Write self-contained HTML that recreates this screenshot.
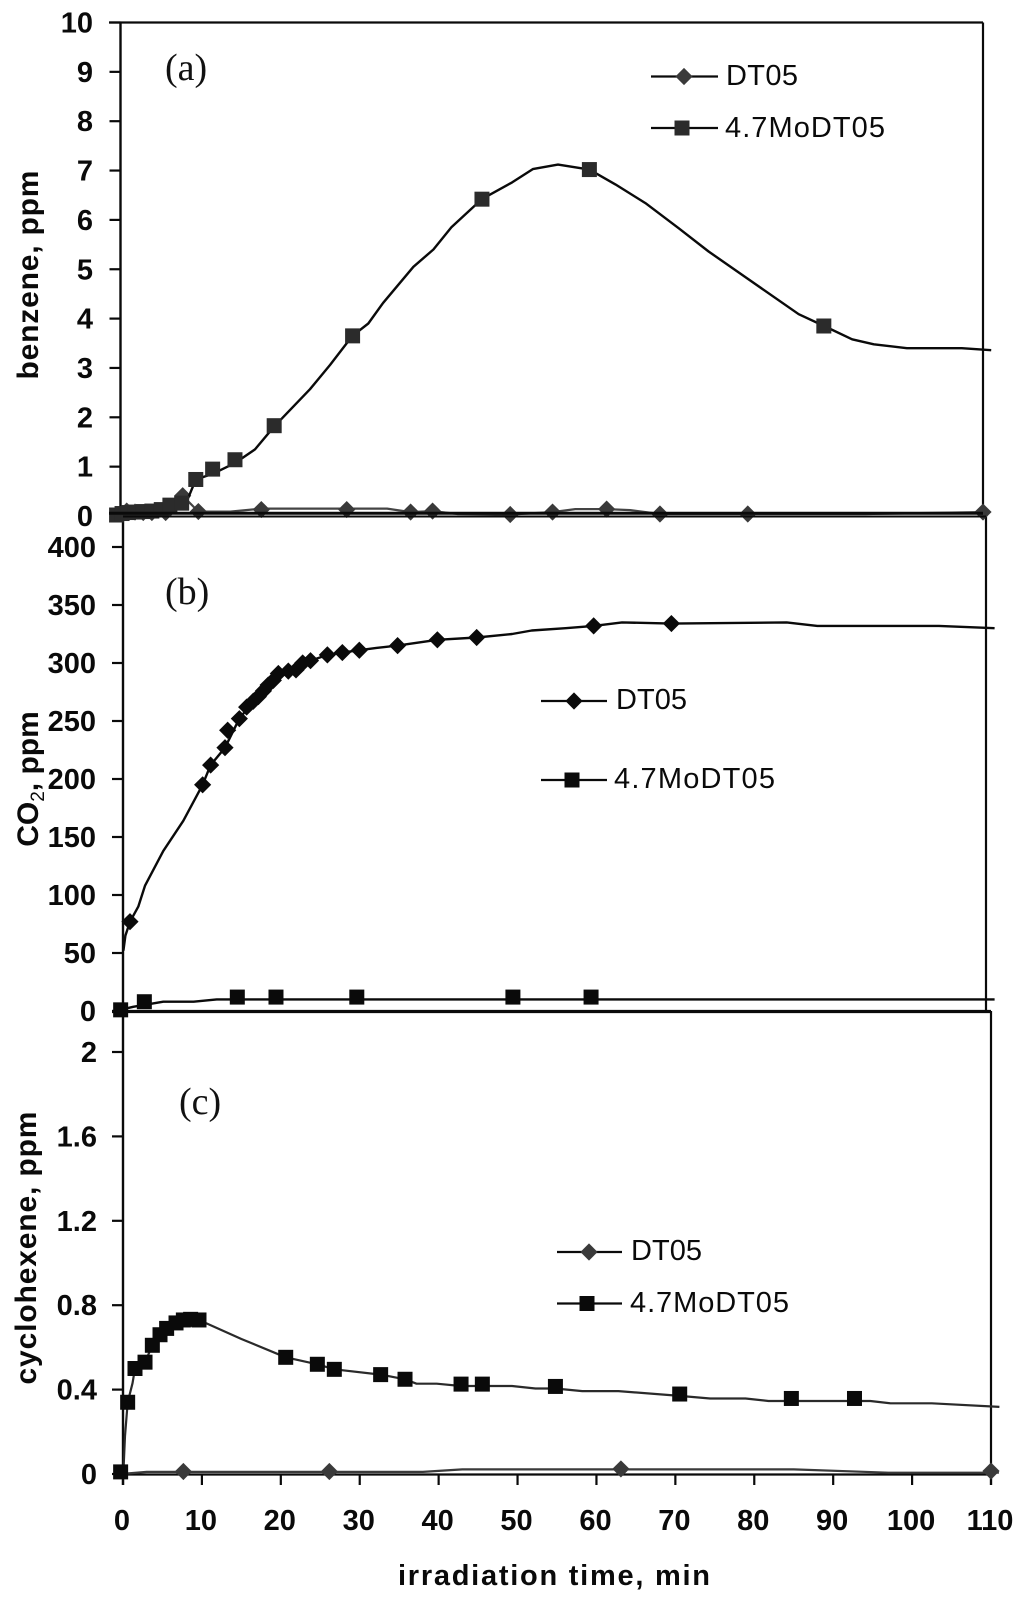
<!DOCTYPE html>
<html>
<head>
<meta charset="utf-8">
<style>
html,body{margin:0;padding:0;background:#fff;width:1024px;height:1598px;overflow:hidden}
svg{display:block}
text{font-family:"Liberation Sans",sans-serif;fill:#0a0a0a}
.tick{font-size:29px;font-weight:bold}
.ytitle,.xtitle{font-size:30px;font-weight:bold}
.legend{font-size:29px}
.plabel{font-family:"Liberation Serif",serif;font-size:38px;fill:#111}
</style>
</head>
<body>
<svg id="chart" width="1024" height="1598" viewBox="0 0 1024 1598" xmlns="http://www.w3.org/2000/svg">
  <rect x="0" y="0" width="1024" height="1598" fill="#fff"/>
  <g id="marks"></g>

  <text class="plabel" x="165" y="80">(a)</text>
  <text class="plabel" x="165" y="604">(b)</text>
  <text class="plabel" x="179" y="1114">(c)</text>

  <text class="ytitle" text-anchor="middle" textLength="209" lengthAdjust="spacing" transform="translate(38,275) rotate(-90)">benzene, ppm</text>
  <text class="ytitle" text-anchor="middle" transform="translate(38,779) rotate(-90)">CO<tspan font-size="19" font-weight="normal" dy="6">2</tspan><tspan dy="-6">, ppm</tspan></text>
  <text class="ytitle" text-anchor="middle" textLength="273" lengthAdjust="spacing" transform="translate(36,1248) rotate(-90)">cyclohexene, ppm</text>
  <text class="xtitle" text-anchor="middle" textLength="312" lengthAdjust="spacing" x="554" y="1585" style="font-size:29px">irradiation time, min</text>

  <text class="legend" x="726" y="85" textLength="72">DT05</text>
  <text class="legend" x="725" y="137" textLength="160">4.7MoDT05</text>
  <text class="legend" x="616" y="709" textLength="71">DT05</text>
  <text class="legend" x="614" y="788" textLength="161">4.7MoDT05</text>
  <text class="legend" x="631" y="1260" textLength="71">DT05</text>
  <text class="legend" x="630" y="1312" textLength="159">4.7MoDT05</text>
</svg>
<script>
// Shared x axis (irradiation time, min)
const xTicks = [0,10,20,30,40,50,60,70,80,90,100,110];

// Panel (a) benzene, ppm
const aYTicks = [0,1,2,3,4,5,6,7,8,9,10];
const aLineT = [-0.5,1.64,3.76,5.9,7.6,8.65,9.6,11.84,14.56,17.15,19.58,24.17,26.72,29.57,31.6,33.5,37.35,39.9,42.2,46.07,49.94,52.58,55.8,59.8,63.12,66.95,71.2,75,79.7,86.5,89.74,93.3,96.07,100.3,107.3,111.04];
const aLineV = [0.02,0.06,0.08,0.13,0.2,0.37,0.74,0.86,1.07,1.35,1.81,2.57,3.06,3.65,3.9,4.32,5.05,5.4,5.85,6.42,6.76,7.03,7.12,7.02,6.72,6.34,5.83,5.36,4.84,4.09,3.85,3.58,3.48,3.4,3.4,3.36];
const aSquareT = [-0.5,0.2,1.0,1.9,2.9,4.0,5.2,6.3,7.8,9.6,11.75,14.6,19.6,29.6,46.1,59.8,89.7];
const aSquareV = [0.02,0.05,0.07,0.08,0.09,0.1,0.13,0.22,0.26,0.74,0.95,1.14,1.83,3.65,6.42,7.02,3.85];
const aDiamondT = [0.79,1.85,2.9,4,5.76,7.93,9.93,17.96,28.85,37,39.8,49.7,55.1,62,68.8,80,110];
const aDiamondV = [0.1,0.08,0.07,0.07,0.07,0.41,0.09,0.13,0.13,0.08,0.1,0.03,0.08,0.14,0.04,0.04,0.08];
const aDtLineT = [-0.5,0.79,5.76,7.93,9.93,14,17.96,28.85,34,37,39.8,43,49.7,55.1,58,62,65,68.8,80,95,110];
const aDtLineV = [0.03,0.1,0.07,0.41,0.09,0.09,0.15,0.15,0.15,0.08,0.1,0.04,0.03,0.08,0.14,0.14,0.12,0.04,0.04,0.04,0.08];

// Panel (b) CO2, ppm
const bYTicks = [0,50,100,150,200,250,300,350,400];
const bLineT = [0.05,0.3,0.89,1.95,2.8,5.14,7.69,10.15,11.17,13,14.83,16.6,18.5,19.8,22.05,23.9,26.05,27.96,30.12,32.3,35,40.07,45.08,49.6,52.1,56.4,60,63.6,69.9,84.6,88.5,104,111.1];
const bLineV = [52,65,77,90,108,138,164,195,212,227,252,267,281,291,294,302,307,309,311,313,315,320,322,325,328,330,332,335,334,335,332,332,330];
const bDiamondT = [0.89,10.15,11.17,13,13.34,14.83,15.76,16.6,17.25,17.9,18.5,19.16,19.8,21.07,22.05,22.9,23.9,26.05,27.96,30.12,35,40.07,45.08,59.99,69.9];
const bDiamondV = [77,195,212,227,242,252,262,267,271,276,281,285,291,293,294,300,302,307,309,311,315,320,322,332,334];
const bMoLineT = [-0.3,1.3,5.14,9,11.94,14.57,59.66,111.1];
const bMoLineV = [1,3.6,8,8,10,10,10,10];
const bSquareT = [-0.3,2.72,14.57,19.5,29.8,49.7,59.66];
const bSquareV = [1,8,12,12,12,12,12];

// Panel (c) cyclohexene, ppm
const cYTicks = [0,0.4,0.8,1.2,1.6,2];
const cYLabels = ["0","0.4","0.8","1.2","1.6","2"];
const cLineT = [-0.3,0.05,0.25,0.59,1.2,1.52,2.79,3.72,4.69,5.53,6.72,7.65,8.57,9.63,15,20.62,24.63,26.78,32.65,35.74,37.2,39.75,42.84,49.3,52.26,54.8,58.2,62.8,70.55,74.4,78.9,81.8,94.7,97.25,102.5,111.07];
const cLineV = [0.01,0.01,0.18,0.34,0.43,0.5,0.53,0.61,0.66,0.69,0.716,0.73,0.733,0.73,0.64,0.553,0.52,0.496,0.471,0.449,0.428,0.428,0.417,0.417,0.405,0.405,0.393,0.393,0.37,0.358,0.358,0.346,0.346,0.335,0.335,0.318];
const cSquareT = [-0.3,0.59,1.52,2.79,3.72,4.69,5.53,6.72,7.65,8.57,9.63,20.62,24.63,26.78,32.65,35.74,42.84,45.54,54.8,70.55,84.7,92.7];
const cSquareV = [0.01,0.34,0.5,0.53,0.61,0.66,0.69,0.716,0.73,0.733,0.73,0.553,0.52,0.496,0.471,0.449,0.426,0.426,0.415,0.379,0.358,0.358];
const cDiamondT = [7.65,26.15,63.1,110];
const cDiamondV = [0.012,0.012,0.024,0.014];
const cDtLineT = [-0.3,3,38,43,85,97,111];
const cDtLineV = [0,0.01,0.01,0.022,0.022,0.006,0.006];

const NS = 'http://www.w3.org/2000/svg';
const marks = document.getElementById('marks');

function make(tag, attrs, parent) {
  const el = document.createElementNS(NS, tag);
  for (const k in attrs) el.setAttribute(k, attrs[k]);
  (parent || marks).appendChild(el);
  return el;
}
function linear(d0, d1, r0, r1) {
  return function (v) { return r0 + (v - d0) * (r1 - r0) / (d1 - d0); };
}

const xA = linear(0, 110, 120.5, 983);
const yA = linear(0, 10, 516, 22.5);
const xB = linear(0, 110, 123, 986);
const yB = linear(0, 400, 1011, 547);
const xC = linear(0, 110, 123, 991);
const yC = linear(0, 2, 1474, 1052);

function seriesLine(name, ts, vs, sx, sy, color, w) {
  const pts = ts.map(function (t, i) { return sx(t).toFixed(1) + ',' + sy(vs[i]).toFixed(1); }).join(' ');
  const el = make('polyline', {points: pts, fill: 'none', stroke: color, 'stroke-width': w, 'stroke-linejoin': 'round'});
  
  
}
function square(name, cx, cy, color) {
  const el = make('rect', {x: cx - 7.5, y: cy - 7.5, width: 15, height: 15, fill: color});
  
  
}
function diamond(name, cx, cy, color) {
  const r = 8.6;
  const el = make('polygon', {points: cx + ',' + (cy - r) + ' ' + (cx + r) + ',' + cy + ' ' + cx + ',' + (cy + r) + ' ' + (cx - r) + ',' + cy, fill: color});
  
  
}
function axisLine(name, x1, y1, x2, y2, w) {
  const el = make('line', {x1: x1, y1: y1, x2: x2, y2: y2, stroke: '#0a0a0a', 'stroke-width': w});
  
  
}
function yAxis(name, values, labels, sy, xAxis, labelX) {
  values.forEach(function (v, i) {
    axisLine(name + '-tick', xAxis - 11, sy(v), xAxis, sy(v), 2.2);
    const t = make('text', {x: labelX, y: sy(v) + 10, 'text-anchor': 'end', 'class': 'tick'});
    
    
    t.textContent = labels[i];
  });
}
function series(prefix, kind, ts, vs, sx, sy, color) {
  ts.forEach(function (t, i) {
    if (kind === 'square') square(prefix + '-point', sx(t), sy(vs[i]), color);
    else diamond(prefix + '-point', sx(t), sy(vs[i]), color);
  });
}

// Panel frames
axisLine('panel-a-top-axis', 109, 22.5, 983, 22.5, 2.2);
axisLine('panel-a-right-axis', 983, 22.5, 983, 516, 2.2);
axisLine('panel-a-left-axis', 120.5, 22.5, 120.5, 516, 2.4);
axisLine('panel-b-left-axis', 123, 516, 123, 1011, 2.4);
axisLine('panel-b-right-axis', 986, 516, 986, 1012, 2.2);
axisLine('panel-c-left-axis', 123, 1011, 123, 1485, 2.4);
axisLine('panel-c-right-axis', 991, 1011, 991, 1485, 2.2);

// Y axes
yAxis('y-axis-a', aYTicks, aYTicks.map(String), yA, 120.5, 93);
yAxis('y-axis-b', bYTicks, bYTicks.map(String), yB, 123, 96);
yAxis('y-axis-c', cYTicks, cYLabels, yC, 123, 97);

// Shared X axis ticks and labels
xTicks.forEach(function (v) {
  axisLine('x-axis-tick', xC(v), 1474, xC(v), 1485, 2.2);
  const t = make('text', {x: xC(v) - 1, y: 1530, 'text-anchor': 'middle', 'class': 'tick'});
  
  
  t.textContent = v;
});

// Panel (a) series
seriesLine('panel-a-dt05-line', aDtLineT, aDtLineV, xA, yA, '#444', 2.2);
series('panel-a-dt05', 'diamond', aDiamondT, aDiamondV, xA, yA, '#3a3a3a');
seriesLine('panel-a-modt05-line', aLineT, aLineV, xA, yA, '#0a0a0a', 2.4);
series('panel-a-modt05', 'square', aSquareT, aSquareV, xA, yA, '#2b2b2b');
axisLine('panel-a-x-axis', 109, 513.2, 983, 513.2, 3);
axisLine('panel-b-top-axis', 123, 516.5, 986, 516.5, 2);

// Panel (b) series
seriesLine('panel-b-dt05-line', bLineT, bLineV, xB, yB, '#0a0a0a', 2.4);
series('panel-b-dt05', 'diamond', bDiamondT, bDiamondV, xB, yB, '#0a0a0a');
seriesLine('panel-b-modt05-line', bMoLineT, bMoLineV, xB, yB, '#0a0a0a', 2.4);
series('panel-b-modt05', 'square', bSquareT, bSquareV, xB, yB, '#0a0a0a');
axisLine('panel-b-x-axis', 112, 1011.5, 991, 1011.5, 3.2);

// Panel (c) series
axisLine('panel-c-x-axis', 123, 1474.5, 991, 1474.5, 2.2);
seriesLine('panel-c-dt05-line', cDtLineT, cDtLineV, xC, yC, '#3a3a3a', 2.2);
series('panel-c-dt05', 'diamond', cDiamondT, cDiamondV, xC, yC, '#3a3a3a');
seriesLine('panel-c-modt05-line', cLineT, cLineV, xC, yC, '#2a2a2a', 2.2);
series('panel-c-modt05', 'square', cSquareT, cSquareV, xC, yC, '#0a0a0a');

// Legend keys
axisLine('legend-a-dt05-line', 651, 76.5, 718, 76.5, 2.2);
diamond('legend-a-dt05-marker', 684, 76.5, '#3a3a3a');
axisLine('legend-a-modt05-line', 651, 128, 718, 128, 2.2);
square('legend-a-modt05-marker', 682, 128, '#2b2b2b');
axisLine('legend-b-dt05-line', 541, 701, 607, 701, 2.2);
diamond('legend-b-dt05-marker', 574, 701, '#0a0a0a');
axisLine('legend-b-modt05-line', 541, 780, 607, 780, 2.2);
square('legend-b-modt05-marker', 572, 780, '#0a0a0a');
axisLine('legend-c-dt05-line', 557, 1252, 622, 1252, 2.2);
diamond('legend-c-dt05-marker', 589, 1252, '#3a3a3a');
axisLine('legend-c-modt05-line', 557, 1303.5, 622, 1303.5, 2.2);
square('legend-c-modt05-marker', 587, 1303.5, '#0a0a0a');
</script>
</body>
</html>
